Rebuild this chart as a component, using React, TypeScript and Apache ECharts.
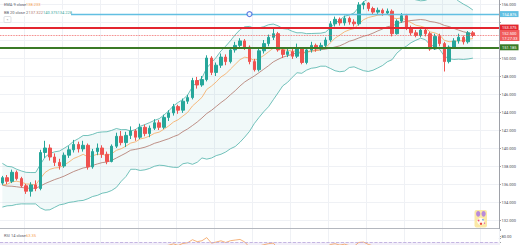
import React, { useEffect, useRef } from "react";
import * as echarts from "echarts";

// closes of the bars before the visible window (needed to seed BB 20 / EMA 9 / RSI 14)
const warmupCloses = [137.8, 138.2, 137.6, 137.9, 137.2, 136.8, 136.1, 135.5, 134.8, 134.3,
  134.6, 134.0, 134.4, 135.1, 134.7, 135.3, 135.9, 136.4, 136.0, 135.8];

const opens = [136.1, 136.7, 136.3, 137.3, 136.6, 135.8, 135.2, 135.9, 135.5, 139.5,
  140.0, 139.0, 138.4, 138.0, 139.2, 139.8, 140.4, 139.9, 140.3, 137.9,
  139.6, 140.0, 139.3, 138.5, 140.2, 141.3, 140.6, 141.4, 141.9, 141.2,
  142.3, 141.6, 142.2, 142.8, 142.3, 143.4, 143.9, 144.6, 144.2, 145.2,
  145.6, 147.5, 147.0, 147.6, 150.0, 148.4, 149.2, 150.1, 149.6, 150.9,
  151.4, 151.9, 151.2, 149.6, 148.7, 150.8, 151.6, 152.3, 152.7, 150.9,
  150.4, 150.7, 150.2, 151.0, 149.5, 150.9, 151.4, 151.0, 151.4, 152.0,
  153.8, 154.3, 153.9, 154.4, 154.0, 153.8, 155.9, 156.1, 155.5, 155.1,
  155.3, 155.0, 155.2, 152.7, 154.1, 154.7, 153.3, 152.8, 152.5, 153.1,
  152.7, 151.0, 152.4, 151.6, 149.6, 151.2, 151.9, 152.3, 151.8, 152.8];

const closes = [136.7, 136.3, 137.3, 136.6, 135.8, 135.2, 135.9, 135.5, 139.5, 140.0,
  139.0, 138.4, 138.0, 139.2, 139.8, 140.4, 139.9, 140.3, 137.9, 139.6,
  140.0, 139.3, 138.5, 140.2, 141.3, 140.6, 141.4, 141.9, 141.2, 142.3,
  141.6, 142.2, 142.8, 142.3, 143.4, 143.9, 144.6, 144.2, 145.2, 145.6,
  147.5, 147.0, 147.6, 150.0, 148.4, 149.2, 150.1, 149.6, 150.9, 151.4,
  151.9, 151.2, 149.6, 148.7, 150.8, 151.6, 152.3, 152.7, 150.9, 150.4,
  150.7, 150.2, 151.0, 149.5, 150.9, 151.4, 151.0, 151.4, 152.0, 153.8,
  154.3, 153.9, 154.4, 154.0, 153.8, 155.9, 156.1, 155.5, 155.1, 155.3,
  155.0, 155.2, 152.7, 154.1, 154.7, 153.3, 152.8, 152.5, 153.1, 152.7,
  151.0, 152.4, 151.6, 149.6, 151.2, 151.9, 152.3, 151.8, 152.8, 152.5];

const highs = [136.9, 137.0, 137.6, 137.5, 136.8, 136.0, 136.2, 136.4, 139.8, 140.8,
  140.4, 139.4, 138.8, 139.5, 140.2, 140.9, 140.7, 140.8, 140.5, 139.9,
  140.5, 140.3, 139.6, 140.4, 141.7, 141.9, 141.8, 142.4, 142.1, 142.7,
  142.6, 142.5, 143.2, 143.1, 143.7, 144.2, 144.9, 144.8, 145.5, 145.9,
  147.8, 147.9, 148.0, 150.3, 150.2, 149.5, 150.5, 150.4, 151.2, 151.8,
  152.2, 152.1, 151.4, 149.9, 151.0, 152.0, 152.6, 153.3, 152.9, 151.2,
  151.0, 151.0, 151.6, 151.2, 151.1, 151.8, 151.6, 151.7, 152.3, 154.1,
  154.6, 154.5, 154.7, 154.6, 154.3, 156.2, 156.3, 156.2, 155.7, 155.6,
  155.5, 155.5, 155.4, 154.3, 155.0, 154.9, 153.6, 153.1, 153.4, 153.3,
  152.9, 152.7, 152.7, 151.8, 151.4, 152.2, 152.7, 152.5, 153.0, 153.0];

const lows = [135.9, 136.0, 136.1, 136.4, 135.6, 134.9, 134.6, 135.2, 135.3, 138.9,
  138.6, 138.0, 137.6, 137.8, 138.9, 139.5, 139.5, 139.6, 137.6, 137.7,
  139.2, 138.9, 138.2, 138.4, 140.0, 140.3, 140.1, 141.0, 140.8, 141.0,
  141.3, 141.2, 142.0, 142.0, 142.1, 143.0, 143.6, 143.8, 143.9, 144.9,
  145.4, 146.6, 146.8, 147.4, 148.1, 148.0, 148.9, 149.2, 149.4, 150.6,
  151.1, 150.9, 149.3, 148.5, 148.5, 150.5, 151.3, 152.0, 150.7, 150.0,
  150.1, 149.9, 150.0, 149.3, 149.3, 150.6, 150.7, 150.8, 151.1, 151.8,
  153.5, 153.6, 153.6, 153.7, 153.5, 153.6, 155.4, 155.2, 154.8, 154.9,
  154.7, 154.8, 152.4, 152.6, 153.9, 153.1, 152.5, 152.3, 152.3, 152.4,
  150.8, 150.9, 151.3, 148.5, 149.4, 151.0, 151.6, 151.5, 151.6, 152.3];

// horizontal levels drawn on the chart
const blueLevel = 154.876;
const redLevel = 153.375;
const lastPrice = 152.5;
const greenLevel = 151.185;
const countdown = "17:27:33";
const handleBarIndex = 52;

// legend texts
const emaLegend = ["EMA 9 close", "138.233"];
const bbLegend = ["BB 20 close 2", "137.322", "140.375", "134.228"];
const rsiLegend = ["RSI 14 close", "63.35"];

const yMin = 130;
const yMax = 158;
const yStep = 2;
const hiddenTicks = [130, 152, 154, 158];
const rsiLabelLevels = [80];

const slots = 105;
const categories = Array.from({ length: slots }, (_, i) => String(i));

const FONT = "Roboto, 'Liberation Sans', sans-serif";

function indicators() {
  const all = [...warmupCloses, ...closes];
  const W = warmupCloses.length;
  const mid: number[] = [], up: number[] = [], lo: number[] = [];
  for (let i = W; i < all.length; i++) {
    const win = all.slice(i - 19, i + 1);
    const m = win.reduce((a, b) => a + b, 0) / win.length;
    const sd = Math.sqrt(win.reduce((a, b) => a + (b - m) * (b - m), 0) / win.length);
    mid.push(+m.toFixed(3));
    up.push(+(m + 2 * sd).toFixed(3));
    lo.push(+(m - 2 * sd).toFixed(3));
  }
  const ema: number[] = [];
  const k = 2 / 10;
  let e = all.slice(0, 9).reduce((a, b) => a + b, 0) / 9;
  for (let i = 9; i < all.length; i++) {
    e = all[i] * k + e * (1 - k);
    if (i >= W) ema.push(+e.toFixed(3));
  }
  const rsi: number[] = [];
  let ag = 0, al = 0;
  for (let i = 1; i <= 14; i++) {
    const d = all[i] - all[i - 1];
    if (d > 0) ag += d; else al -= d;
  }
  ag /= 14; al /= 14;
  for (let i = 15; i < all.length; i++) {
    const d = all[i] - all[i - 1];
    ag = (ag * 13 + Math.max(d, 0)) / 14;
    al = (al * 13 + Math.max(-d, 0)) / 14;
    if (i >= W) rsi.push(+(al === 0 ? 100 : 100 - 100 / (1 + ag / al)).toFixed(2));
  }
  return { mid, up, lo, ema, rsi };
}

export default function App() {
  const ref = useRef<HTMLDivElement>(null);
  useEffect(() => {
    document.body.style.margin = "0";
    const chart = echarts.init(ref.current!, null, { renderer: "svg" });
    const { mid, up, lo, ema, rsi } = indicators();
    const candles = opens.map((o, i) => [o, closes[i], lows[i], highs[i]]);
    const band = up.map((u, i) => +(u - lo[i]).toFixed(3));
    const vInterval = (index: number) => index % 8 === 5;

    const lvlLabel = (text: string, bg: string) => ({
      show: true,
      position: "end",
      distance: 1,
      formatter: text,
      color: "#fff",
      backgroundColor: bg,
      fontSize: 4,
      lineHeight: 5,
      padding: [0.5, 2, 0.5, 2],
      fontFamily: FONT,
    });

    const option: any = {
      animation: false,
      backgroundColor: "#fff",
      grid: [
        { left: 0, right: 21, top: -14, height: 252, outerBoundsMode: "none", containLabel: false },
        { left: 0, right: 21, top: 229, height: 43.2, outerBoundsMode: "none", containLabel: false },
      ],
      xAxis: [
        {
          type: "category", data: categories, gridIndex: 0, boundaryGap: true,
          axisLine: { show: false }, axisTick: { show: false }, axisLabel: { show: false },
          splitLine: { show: true, interval: vInterval, lineStyle: { color: "#eff1f5", width: 1 } },
        },
        {
          type: "category", data: categories, gridIndex: 1, boundaryGap: true, z: 3,
          axisLine: { show: false }, axisTick: { show: false }, axisLabel: { show: false },
          splitLine: { show: true, interval: vInterval, lineStyle: { color: "#eff1f5", width: 1 } },
        },
      ],
      yAxis: [
        {
          type: "value", gridIndex: 0, position: "right", min: yMin, max: yMax, interval: yStep,
          axisLine: { show: true, lineStyle: { color: "#9ea1a8", width: 1 } },
          axisTick: { show: true, length: 2, lineStyle: { color: "#9ea1a8" } },
          axisLabel: {
            show: true, fontSize: 4, color: "#4a4d55", margin: 2.5, fontFamily: FONT,
            formatter: (v: number) => (hiddenTicks.includes(v) ? "" : v.toFixed(3)),
          },
          splitLine: { show: true, lineStyle: { color: "#eff1f5", width: 1 } },
        },
        {
          type: "value", gridIndex: 1, position: "right", min: 20, max: 92, interval: 10,
          axisLine: { show: true, lineStyle: { color: "#9ea1a8", width: 1 } },
          axisTick: { show: true, length: 2, lineStyle: { color: "#9ea1a8" } },
          axisLabel: {
            show: true, fontSize: 4, color: "#4a4d55", margin: 2.5, fontFamily: FONT,
            formatter: (v: number) => (rsiLabelLevels.includes(v) ? v.toFixed(2) : ""),
          },
          splitLine: { show: false },
        },
      ],
      series: [
        {
          name: "BB lower", type: "line", xAxisIndex: 0, yAxisIndex: 0, data: lo, stack: "bb",
          symbol: "none", z: 1, lineStyle: { color: "#4fb3aa", width: 0.8 },
        },
        {
          name: "BB upper", type: "line", xAxisIndex: 0, yAxisIndex: 0, data: band, stack: "bb",
          symbol: "none", z: 1, lineStyle: { color: "#4fb3aa", width: 0.8 },
          areaStyle: { color: "rgba(38,166,154,0.09)" },
        },
        {
          name: "BB basis", type: "line", xAxisIndex: 0, yAxisIndex: 0, data: mid,
          symbol: "none", z: 1, lineStyle: { color: "#b0756a", width: 0.8 },
        },
        {
          name: "EMA 9", type: "line", xAxisIndex: 0, yAxisIndex: 0, data: ema,
          symbol: "none", z: 1, lineStyle: { color: "#f6a85e", width: 0.8 },
        },
        {
          name: "price", type: "candlestick", xAxisIndex: 0, yAxisIndex: 0, data: candles,
          barWidth: 3, z: 3,
          itemStyle: {
            color: "#26a69a", color0: "#ef5350", borderColor: "#26a69a", borderColor0: "#ef5350",
            borderWidth: 1,
          },
          markLine: {
            silent: true, symbol: ["none", "none"], animation: false,
            data: [
              { yAxis: blueLevel, lineStyle: { color: "#62bfe2", width: 1.3, type: "solid" }, label: lvlLabel(blueLevel.toFixed(3), "#62bfe2") },
              { yAxis: redLevel, lineStyle: { color: "#e3262f", width: 2, type: "solid" }, label: lvlLabel(redLevel.toFixed(3), "#e3262f") },
              { yAxis: lastPrice, lineStyle: { color: "#ef5350", width: 0.8, type: "dotted" }, label: lvlLabel(lastPrice.toFixed(3) + "\n" + countdown, "#f05b5b") },
              { yAxis: greenLevel, lineStyle: { color: "#3a7a26", width: 2, type: "solid" }, label: lvlLabel(greenLevel.toFixed(3), "#3a7a26") },
            ],
          },
        },
        {
          name: "handle", type: "scatter", xAxisIndex: 0, yAxisIndex: 0,
          data: [[handleBarIndex, blueLevel]], symbol: "circle", symbolSize: 5, z: 10,
          itemStyle: { color: "#fff", borderColor: "#3d62dd", borderWidth: 1.2 },
        },
        {
          name: "RSI", type: "line", xAxisIndex: 1, yAxisIndex: 1, data: rsi,
          symbol: "none", z: 4, lineStyle: { color: "#f4a05a", width: 0.8 },
          markArea: {
            silent: true,
            itemStyle: { color: "rgba(126,87,194,0.1)" },
            data: [[{ yAxis: 30 }, { yAxis: 70 }]],
          },
          markLine: {
            silent: true, symbol: ["none", "none"],
            label: { show: false },
            lineStyle: { color: "#b9a6dc", type: "dashed", width: 0.8 },
            data: [{ yAxis: 70 }, { yAxis: 30 }],
          },
        },
      ],
      graphic: [
        { type: "rect", z: 1, shape: { x: 0, y: 229, width: 498.5, height: 20 }, style: { fill: "#fff" } },
        { type: "line", z: 60, shape: { x1: 0, y1: 228.5, x2: 499, y2: 228.5 }, style: { stroke: "#b4b7be", lineWidth: 1 } },
        // legend
        { type: "rect", z: 50, shape: { x: 0, y: 9.5, width: 71, height: 6.5 }, style: { fill: "#fff" } },
        { type: "text", z: 51, x: 4, y: 4, style: { text: emaLegend[0], fontSize: 4, fill: "#5d606b", fontFamily: FONT, verticalAlign: "middle" } },
        { type: "text", z: 51, x: 26, y: 4, style: { text: emaLegend[1], fontSize: 4, fill: "#f6a04d", fontFamily: FONT, verticalAlign: "middle" } },
        { type: "text", z: 51, x: 4, y: 12.8, style: { text: bbLegend[0], fontSize: 4, fill: "#5d606b", fontFamily: FONT, verticalAlign: "middle" } },
        { type: "text", z: 51, x: 28.5, y: 12.8, style: { text: bbLegend[1], fontSize: 4, fill: "#b0756a", fontFamily: FONT, verticalAlign: "middle" } },
        { type: "text", z: 51, x: 43, y: 12.8, style: { text: bbLegend[2], fontSize: 4, fill: "#3fa89e", fontFamily: FONT, verticalAlign: "middle" } },
        { type: "text", z: 51, x: 57.5, y: 12.8, style: { text: bbLegend[3], fontSize: 4, fill: "#3fa89e", fontFamily: FONT, verticalAlign: "middle" } },
        { type: "rect", z: 51, shape: { x: 4, y: 16.5, width: 7, height: 6, r: 1 }, style: { fill: "#fff", stroke: "#c9ccd3", lineWidth: 0.6 } },
        { type: "text", z: 52, x: 7.5, y: 19.5, style: { text: "«", fontSize: 4, fill: "#555", fontFamily: FONT, align: "center", verticalAlign: "middle" } },
        { type: "text", z: 61, x: 4, y: 235.5, style: { text: rsiLegend[0], fontSize: 4, fill: "#5d606b", fontFamily: FONT, verticalAlign: "middle" } },
        { type: "text", z: 61, x: 26, y: 235.5, style: { text: rsiLegend[1], fontSize: 4, fill: "#f6a04d", fontFamily: FONT, verticalAlign: "middle" } },
        // small badge icon near the axis
        { type: "rect", z: 55, shape: { x: 474.5, y: 210, width: 12.5, height: 17.5, r: 2 }, style: { fill: "#fbe9a6" } },
        { type: "ellipse", z: 56, shape: { cx: 478.2, cy: 213.8, rx: 2.1, ry: 2.9 }, style: { fill: "#b98ad9" } },
        { type: "ellipse", z: 56, shape: { cx: 483.6, cy: 213.8, rx: 2.1, ry: 2.9 }, style: { fill: "#b98ad9" } },
        { type: "circle", z: 56, shape: { cx: 480.8, cy: 221.5, r: 3.6 }, style: { fill: "#fffaf0" } },
        { type: "circle", z: 57, shape: { cx: 478.6, cy: 220.5, r: 0.9 }, style: { fill: "#e8507a" } },
        { type: "circle", z: 57, shape: { cx: 483.0, cy: 219.8, r: 0.8 }, style: { fill: "#5a9ee8" } },
        { type: "circle", z: 57, shape: { cx: 481.0, cy: 223.8, r: 1.2 }, style: { fill: "#e8473b" } },
        { type: "circle", z: 57, shape: { cx: 484.5, cy: 223.2, r: 0.7 }, style: { fill: "#e36ca0" } },
      ],
    };
    chart.setOption(option);
    return () => chart.dispose();
  }, []);
  return <div ref={ref} style={{ width: 520, height: 245 }} />;
}
